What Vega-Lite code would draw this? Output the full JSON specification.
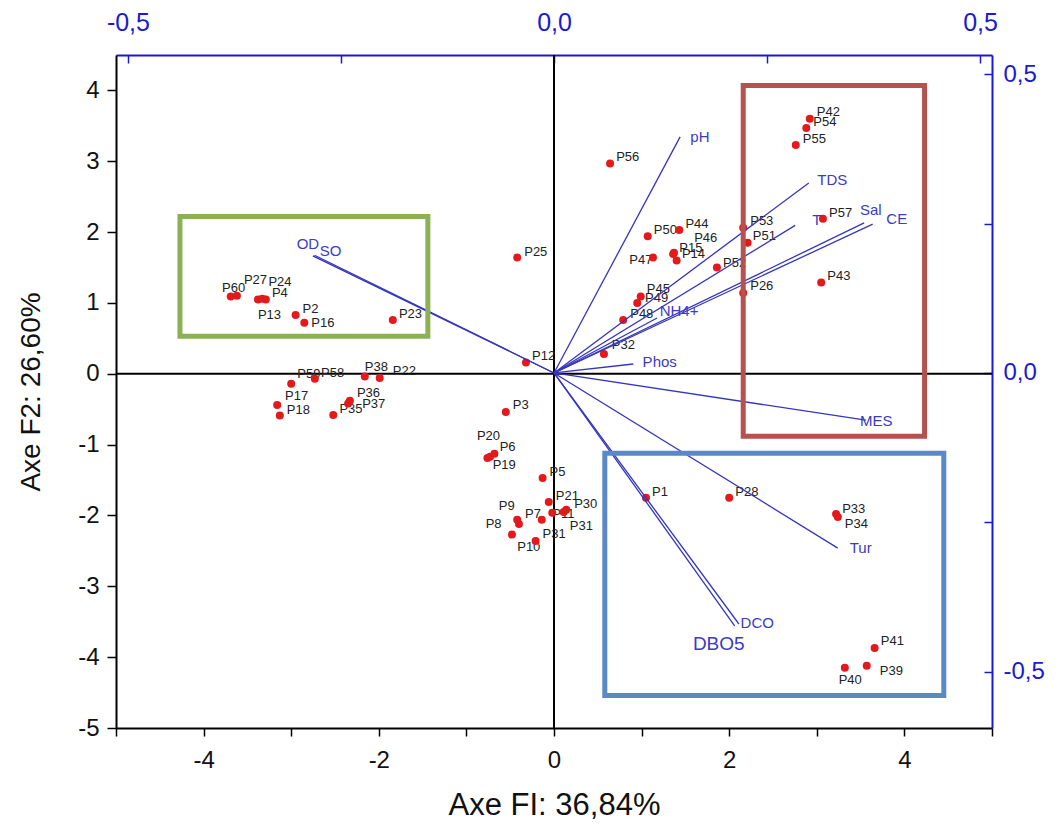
{
  "$schema": "https://vega.github.io/schema/vega-lite/v6.json",
  "width": 876,
  "height": 673,
  "autosize": "none",
  "padding": {"left": 116, "top": 55, "right": 69, "bottom": 105},
  "background": "white",
  "config": {"view": {"stroke": null}, "axis": {"grid": false, "labelFlush": false, "labelOverlap": false}},
  "datasets": {
    "obs": [
      {"p": "P1", "x": 1.05, "y": -1.75, "lx": 1.12, "ly": -1.67},
      {"p": "P2", "x": -2.95, "y": 0.83, "lx": -2.87, "ly": 0.92},
      {"p": "P3", "x": -0.55, "y": -0.54, "lx": -0.47, "ly": -0.44},
      {"p": "P4", "x": -3.29, "y": 1.05, "lx": -3.22, "ly": 1.14},
      {"p": "P5", "x": -0.13, "y": -1.47, "lx": -0.05, "ly": -1.38},
      {"p": "P6", "x": -0.68, "y": -1.13, "lx": -0.62, "ly": -1.03},
      {"p": "P7", "x": -0.14, "y": -2.06, "lx": -0.33, "ly": -1.98},
      {"p": "P8", "x": -0.40, "y": -2.12, "lx": -0.78, "ly": -2.12},
      {"p": "P9", "x": -0.42, "y": -2.06, "lx": -0.63, "ly": -1.86},
      {"p": "P10", "x": -0.48, "y": -2.27, "lx": -0.42, "ly": -2.44},
      {"p": "P11", "x": -0.02, "y": -1.96, "lx": -0.02, "ly": -1.98},
      {"p": "P12", "x": -0.32, "y": 0.16, "lx": -0.25, "ly": 0.25},
      {"p": "P13", "x": -3.38, "y": 1.05, "lx": -3.38, "ly": 0.83},
      {"p": "P14", "x": 1.40, "y": 1.60, "lx": 1.46, "ly": 1.69},
      {"p": "P15", "x": 1.36, "y": 1.69, "lx": 1.43, "ly": 1.78},
      {"p": "P16", "x": -2.85, "y": 0.72, "lx": -2.77, "ly": 0.71},
      {"p": "P17", "x": -3.16, "y": -0.44, "lx": -3.07, "ly": -0.32},
      {"p": "P18", "x": -3.13, "y": -0.59, "lx": -3.05, "ly": -0.51},
      {"p": "P19", "x": -0.73, "y": -1.17, "lx": -0.70, "ly": -1.29},
      {"p": "P20", "x": -0.76, "y": -1.19, "lx": -0.88, "ly": -0.88},
      {"p": "P21", "x": -0.06, "y": -1.81, "lx": 0.02, "ly": -1.72},
      {"p": "P22", "x": -1.99, "y": -0.06, "lx": -1.84, "ly": 0.04},
      {"p": "P23", "x": -1.84, "y": 0.76, "lx": -1.77, "ly": 0.85},
      {"p": "P24", "x": -3.33, "y": 1.06, "lx": -3.26, "ly": 1.29},
      {"p": "P25", "x": -0.42, "y": 1.64, "lx": -0.34, "ly": 1.72},
      {"p": "P26", "x": 2.16, "y": 1.14, "lx": 2.24, "ly": 1.24},
      {"p": "P27", "x": -3.62, "y": 1.10, "lx": -3.54, "ly": 1.33},
      {"p": "P28", "x": 2.00, "y": -1.75, "lx": 2.07, "ly": -1.67},
      {"p": "P30", "x": 0.14, "y": -1.92, "lx": 0.23, "ly": -1.84},
      {"p": "P31", "x": 0.11, "y": -1.95, "lx": 0.18, "ly": -2.15},
      {"p": "P31", "x": -0.21, "y": -2.36, "lx": -0.13, "ly": -2.26},
      {"p": "P32", "x": 0.57, "y": 0.28, "lx": 0.66, "ly": 0.40},
      {"p": "P33", "x": 3.22, "y": -1.98, "lx": 3.29, "ly": -1.91},
      {"p": "P34", "x": 3.24, "y": -2.02, "lx": 3.32, "ly": -2.12},
      {"p": "P35", "x": -2.52, "y": -0.58, "lx": -2.45, "ly": -0.49},
      {"p": "P36", "x": -2.33, "y": -0.38, "lx": -2.25, "ly": -0.27},
      {"p": "P37", "x": -2.35, "y": -0.42, "lx": -2.19, "ly": -0.42},
      {"p": "P38", "x": -2.16, "y": -0.04, "lx": -2.16, "ly": 0.10},
      {"p": "P39", "x": 3.57, "y": -4.12, "lx": 3.72, "ly": -4.19},
      {"p": "P40", "x": 3.32, "y": -4.15, "lx": 3.25, "ly": -4.32},
      {"p": "P41", "x": 3.66, "y": -3.87, "lx": 3.73, "ly": -3.77},
      {"p": "P42", "x": 2.92, "y": 3.60, "lx": 3.00, "ly": 3.69},
      {"p": "P43", "x": 3.05, "y": 1.29, "lx": 3.12, "ly": 1.38},
      {"p": "P44", "x": 1.43, "y": 2.03, "lx": 1.50, "ly": 2.12},
      {"p": "P45", "x": 0.99, "y": 1.09, "lx": 1.06, "ly": 1.19},
      {"p": "P46", "x": 1.37, "y": 1.71, "lx": 1.60, "ly": 1.91},
      {"p": "P47", "x": 1.13, "y": 1.64, "lx": 0.86, "ly": 1.60},
      {"p": "P48", "x": 0.79, "y": 0.76, "lx": 0.87, "ly": 0.85},
      {"p": "P49", "x": 0.95, "y": 1.00, "lx": 1.04, "ly": 1.07},
      {"p": "P50", "x": 1.07, "y": 1.94, "lx": 1.14, "ly": 2.03},
      {"p": "P51", "x": 2.21, "y": 1.85, "lx": 2.27, "ly": 1.95},
      {"p": "P52", "x": 1.86, "y": 1.50, "lx": 1.93, "ly": 1.57},
      {"p": "P53", "x": 2.16, "y": 2.06, "lx": 2.24, "ly": 2.16},
      {"p": "P54", "x": 2.88, "y": 3.47, "lx": 2.96, "ly": 3.55},
      {"p": "P55", "x": 2.76, "y": 3.23, "lx": 2.84, "ly": 3.32},
      {"p": "P56", "x": 0.64, "y": 2.97, "lx": 0.71, "ly": 3.06},
      {"p": "P57", "x": 3.07, "y": 2.19, "lx": 3.14, "ly": 2.27},
      {"p": "P58", "x": -2.73, "y": -0.07, "lx": -2.66, "ly": 0.01},
      {"p": "P59", "x": -3.00, "y": -0.14, "lx": -2.93, "ly": -0.01},
      {"p": "P60", "x": -3.69, "y": 1.09, "lx": -3.79, "ly": 1.21}
    ],
    "vars": [
      {"v": "pH", "u": 0.148, "w": 0.395, "lu": 0.160, "lv": 0.395},
      {"v": "TDS", "u": 0.299, "w": 0.318, "lu": 0.309, "lv": 0.323},
      {"v": "T", "u": 0.283, "w": 0.247, "lu": 0.303, "lv": 0.256},
      {"v": "Sal", "u": 0.364, "w": 0.251, "lu": 0.359, "lv": 0.273},
      {"v": "CE", "u": 0.374, "w": 0.249, "lu": 0.390, "lv": 0.258},
      {"v": "NH4+", "u": 0.121, "w": 0.092, "lu": 0.124, "lv": 0.104},
      {"v": "Phos", "u": 0.093, "w": 0.015, "lu": 0.104, "lv": 0.018},
      {"v": "MES", "u": 0.366, "w": -0.079, "lu": 0.359, "lv": -0.080},
      {"v": "Tur", "u": 0.333, "w": -0.293, "lu": 0.347, "lv": -0.293},
      {"v": "DCO", "u": 0.217, "w": -0.420, "lu": 0.219, "lv": -0.418},
      {"v": "DBO5", "u": 0.212, "w": -0.423, "lu": 0.163, "lv": -0.453},
      {"v": "OD", "u": -0.283, "w": 0.196, "lu": -0.302, "lv": 0.216},
      {"v": "SO", "u": -0.281, "w": 0.197, "lu": -0.275, "lv": 0.204}
    ],
    "boxes": [
      {"g": "green", "x1": -4.27, "x2": -1.44, "y1": 2.22, "y2": 0.53},
      {"g": "red", "x1": 2.16, "x2": 4.23, "y1": 4.07, "y2": -0.88},
      {"g": "blue", "x1": 0.58, "x2": 4.45, "y1": -1.12, "y2": -4.54}
    ]
  },
  "layer": [
    {
      "data": {"name": "obs"},
      "layer": [
        {
          "data": {"values": [{}]},
          "mark": {"type": "rule", "color": "black", "strokeWidth": 2},
          "encoding": {"y": {"datum": 0, "type": "quantitative", "scale": {"domain": [-5, 4.5], "nice": false, "zero": false}}}
        },
        {
          "data": {"values": [{}]},
          "mark": {"type": "rule", "color": "black", "strokeWidth": 2},
          "encoding": {"x": {"datum": 0, "type": "quantitative", "scale": {"domain": [-5, 5], "nice": false, "zero": false}}}
        },
        {
          "mark": {"type": "text", "align": "left", "baseline": "middle", "font": "Liberation Sans", "fontSize": 13, "color": "#222222"},
          "encoding": {
            "x": {"field": "lx", "type": "quantitative", "scale": {"domain": [-5, 5], "nice": false, "zero": false}},
            "y": {"field": "ly", "type": "quantitative", "scale": {"domain": [-5, 4.5], "nice": false, "zero": false}},
            "text": {"field": "p"}
          }
        },
        {
          "mark": {"type": "circle", "color": "#e3191c", "opacity": 1, "size": 64},
          "encoding": {
            "x": {"field": "x", "type": "quantitative", "scale": {"domain": [-5, 5], "nice": false, "zero": false},
              "axis": {"orient": "bottom", "values": [-5, -4, -3, -2, -1, 0, 1, 2, 3, 4, 5],
                "labelExpr": "(datum.value % 2 == 0 && abs(datum.value) < 5) ? replace(format(datum.value, 'd'), '\u2212', '-') : ''",
                "tickSize": 8, "tickColor": "black", "tickWidth": 1.5, "domainColor": "black", "domainWidth": 2,
                "labelFontSize": 24, "labelFont": "Liberation Sans Narrow, Liberation Sans", "labelColor": "#111111", "labelPadding": 12,
                "title": "Axe FI: 36,84%", "titleFontSize": 31, "titleFont": "Liberation Sans Narrow, Liberation Sans", "titleFontWeight": "normal", "titleColor": "#111111", "titlePadding": 18}},
            "y": {"field": "y", "type": "quantitative", "scale": {"domain": [-5, 4.5], "nice": false, "zero": false},
              "axis": {"orient": "left", "values": [-5, -4.5, -4, -3.5, -3, -2.5, -2, -1.5, -1, -0.5, 0, 0.5, 1, 1.5, 2, 2.5, 3, 3.5, 4],
                "labelExpr": "datum.value % 1 == 0 ? replace(format(datum.value, 'd'), '\u2212', '-') : ''",
                "tickSize": {"condition": {"test": "datum.value % 1 != 0", "value": 5}, "value": 9},
                "tickColor": "black", "tickWidth": 1.5, "domainColor": "black", "domainWidth": 2,
                "labelFontSize": 24, "labelFont": "Liberation Sans", "labelColor": "#111111", "labelPadding": 8,
                "title": "Axe F2: 26,60%", "titleFontSize": 28, "titleFont": "Liberation Sans", "titleFontWeight": "normal", "titleColor": "#111111", "titlePadding": 32}}
          }
        }
      ]
    },
    {
      "data": {"name": "vars"},
      "layer": [
        {
          "mark": {"type": "rule", "color": "#3535bd", "strokeWidth": 1.3},
          "encoding": {
            "x": {"field": "u", "type": "quantitative", "scale": {"domain": [-0.514, 0.514], "nice": false, "zero": false},
              "axis": {"orient": "top", "values": [-0.5, -0.25, 0, 0.25, 0.5],
                "labelExpr": "abs(datum.value) == 0.25 ? '' : replace(replace(format(datum.value, '.1f'), '.', ','), '\u2212', '-')",
                "tickSize": -8, "tickColor": "#1a1ad0", "tickWidth": 1.5, "domainColor": "#1a1ad0", "domainWidth": 2,
                "labelFontSize": 25, "labelFont": "Liberation Sans Narrow, Liberation Sans", "labelColor": "#1a1ad0", "labelPadding": 28, "title": null}},
            "x2": {"datum": 0},
            "y": {"field": "w", "type": "quantitative", "scale": {"domain": [-0.594, 0.532], "nice": false, "zero": false},
              "axis": {"orient": "right", "values": [-0.5, -0.25, 0, 0.25, 0.5],
                "labelExpr": "abs(datum.value) == 0.25 ? '' : replace(replace(format(datum.value, '.1f'), '.', ','), '\u2212', '-')",
                "tickSize": -8, "tickColor": "#1a1ad0", "tickWidth": 1.5, "domainColor": "#1a1ad0", "domainWidth": 2,
                "labelFontSize": 24, "labelFont": "Liberation Sans", "labelColor": "#1a1ad0", "labelPadding": 19, "title": null}},
            "y2": {"datum": 0}
          }
        },
        {
          "mark": {"type": "text", "align": "left", "baseline": "middle", "font": "Liberation Sans", "color": "#3b3bc4"},
          "encoding": {
            "x": {"field": "lu", "type": "quantitative", "scale": {"domain": [-0.514, 0.514], "nice": false, "zero": false}},
            "y": {"field": "lv", "type": "quantitative", "scale": {"domain": [-0.594, 0.532], "nice": false, "zero": false}},
            "text": {"field": "v"},
            "size": {"condition": {"test": "datum.v == 'DBO5'", "value": 19}, "value": 15}
          }
        }
      ]
    },
    {
      "data": {"name": "boxes"},
      "mark": {"type": "rect", "fillOpacity": 0, "strokeWidth": 5},
      "encoding": {
        "x": {"field": "x1", "type": "quantitative", "scale": {"domain": [-5, 5], "nice": false, "zero": false}, "axis": null},
        "x2": {"field": "x2"},
        "y": {"field": "y1", "type": "quantitative", "scale": {"domain": [-5, 4.5], "nice": false, "zero": false}, "axis": null},
        "y2": {"field": "y2"},
        "stroke": {"field": "g", "type": "nominal", "scale": {"domain": ["green", "red", "blue"], "range": ["#8cb152", "#b6514d", "#5b89c7"]}, "legend": null}
      }
    }
  ],
  "resolve": {"scale": {"x": "independent", "y": "independent"}, "axis": {"x": "independent", "y": "independent"}}
}
